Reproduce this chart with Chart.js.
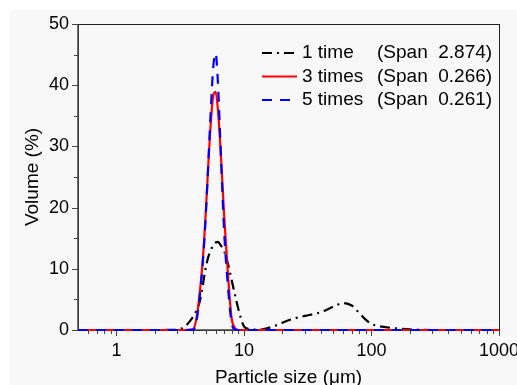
<!DOCTYPE html>
<html lang="en">
<head>
<meta charset="UTF-8">
<title>Particle size distribution</title>
<script src="https://cdn.jsdelivr.net/npm/chart.js"></script>
<style>
  html, body { margin: 0; padding: 0; background: #fff; }
  #wrap { width: 517px; height: 385px; }
</style>
</head>
<body>
<div id="wrap"><canvas id="psd-chart" width="517" height="385"></canvas></div>
<script>
// particle size (um) and volume (%)
const sizes = [0.5, 1, 2, 3, 3.5, 4, 4.25, 4.5, 4.75, 5, 5.25, 5.5, 5.75, 6, 6.25,
  6.5, 6.75, 7, 7.5, 8, 8.5, 9, 10, 11, 12, 14, 17, 20, 25, 30, 40, 50, 60, 70, 80,
  90, 100, 120, 150, 200, 300, 500, 1000];
const once = [0, 0, 0, 0.05, 0.7, 2.2, 3.2, 4.6, 7.2, 10.0, 11.9, 13.0, 13.9, 14.3, 14.4,
  14.0, 13.5, 12.9, 10.8, 8.2, 5.8, 3.6, 0.6, 0.15, 0.05, 0.1, 0.6, 1.2, 1.9, 2.3, 2.9, 3.8, 4.4, 4.0, 2.8,
  1.7, 1.0, 0.55, 0.3, 0.1, 0, 0, 0];
const threeTimes = [0, 0, 0, 0, 0, 0.1, 2.0, 6.0, 11.3, 18.5, 26.8, 33.9, 38.3, 38.9, 36.0,
  30.9, 24.8, 18.6, 9.0, 2.0, 0.3, 0, 0, 0, 0, 0, 0, 0, 0, 0, 0, 0, 0, 0, 0,
  0, 0, 0, 0, 0, 0, 0, 0];
const fiveTimes = [0, 0, 0, 0, 0, 0.05, 1.5, 5.5, 10.8, 18.0, 27.0, 36.0, 43.0, 45.2, 40.5,
  32.0, 23.5, 16.0, 7.0, 1.2, 0.1, 0, 0, 0, 0, 0, 0, 0, 0, 0, 0, 0, 0, 0, 0,
  0, 0, 0, 0, 0, 0, 0, 0];

const seriesNames = ['1 time', '3 times', '5 times'];
const spans = ['2.874', '0.266', '0.261'];
const xLabels = [1, 10, 100, 1000];
const yMajor = [0, 10, 20, 30, 40, 50];
const yMinor = [5, 15, 25, 35, 45];

const FONT = 'Liberation Sans, Arial, sans-serif';
const colors = ['#000000', '#ff0000', '#0000ff'];
const dashes = [[10, 5, 2, 5], [], [10, 8]];

function toPoints(values) {
    return sizes.map((s, i) => ({ x: s, y: values[i] }));
}

// minor x ticks: 2..9 in every decade inside the range
function xMinorTicks() {
    const out = [];
    for (let d = 0.1; d < 1000; d *= 10) {
        for (let k = 2; k <= 9; k++) {
            const v = +(k * d).toPrecision(3);
            if (v > 0.5 && v < 1000) out.push(v);
        }
    }
    return out;
}

const framePlugin = {
    id: 'frame',
    beforeDraw(chart) {
        const ctx = chart.ctx;
        ctx.save();
        ctx.fillStyle = '#ffffff';
        ctx.fillRect(0, 0, chart.width, chart.height);
        ctx.fillStyle = '#f8f8f8';
        ctx.fillRect(10, 10, chart.width - 10, chart.height - 10);
        ctx.restore();
    },
    beforeDatasetsDraw(chart) {
        const { ctx, chartArea: a, scales: { x, y } } = chart;
        ctx.save();
        ctx.strokeStyle = '#222';
        ctx.lineWidth = 1;
        ctx.strokeRect(a.left + 0.5, a.top + 0.5, a.right - a.left, a.bottom - a.top);
        ctx.strokeStyle = '#444';
        ctx.lineWidth = 1.5;
        ctx.beginPath();
        ctx.moveTo(a.left, a.top);
        ctx.lineTo(a.left, a.bottom);
        ctx.lineTo(a.right, a.bottom);
        ctx.stroke();

        ctx.lineWidth = 1;
        ctx.beginPath();
        xLabels.forEach(v => {
            const px = Math.round(x.getPixelForValue(v)) + 0.5;
            ctx.moveTo(px, a.bottom); ctx.lineTo(px, a.bottom + 6);
        });
        xMinorTicks().forEach(v => {
            const px = Math.round(x.getPixelForValue(v)) + 0.5;
            ctx.moveTo(px, a.bottom); ctx.lineTo(px, a.bottom + 4);
        });
        yMajor.forEach(v => {
            const py = Math.round(y.getPixelForValue(v)) + 0.5;
            ctx.moveTo(a.left, py); ctx.lineTo(a.left - 6, py);
        });
        yMinor.forEach(v => {
            const py = Math.round(y.getPixelForValue(v)) + 0.5;
            ctx.moveTo(a.left, py); ctx.lineTo(a.left - 4, py);
        });
        ctx.stroke();
        ctx.restore();
    },
    afterDraw(chart) {
        // legend in the upper right of the plot
        const { ctx, chartArea: a } = chart;
        ctx.save();
        ctx.font = '19px ' + FONT;
        ctx.textBaseline = 'middle';
        ctx.fillStyle = '#000';
        seriesNames.forEach((name, i) => {
            const yy = a.top + 29 + i * 23.5;
            ctx.strokeStyle = colors[i];
            ctx.lineWidth = 2.2;
            ctx.setLineDash(dashes[i]);
            ctx.beginPath();
            ctx.moveTo(262, yy);
            ctx.lineTo(297, yy);
            ctx.stroke();
            ctx.setLineDash([]);
            ctx.fillText(name, 302, yy);
            ctx.fillText('(Span  ' + spans[i] + ')', 377, yy);
        });
        ctx.restore();
    }
};

const ctx = document.getElementById('psd-chart').getContext('2d');
const chart = new Chart(ctx, {
    type: 'line',
    data: {
        datasets: [
            { label: '5 times', data: toPoints(fiveTimes), borderColor: colors[2], borderDash: dashes[2], order: 0 },
            { label: '3 times', data: toPoints(threeTimes), borderColor: colors[1], borderDash: dashes[1], order: 1 },
            { label: '1 time', data: toPoints(once), borderColor: colors[0], borderDash: dashes[0], order: 2 }
        ]
    },
    options: {
        responsive: false,
        animation: false,
        devicePixelRatio: 1,
        layout: { padding: { left: 0, top: 24, right: 18, bottom: 0 } },
        plugins: { legend: { display: false }, tooltip: { enabled: false } },
        elements: {
            point: { radius: 0 },
            line: { borderWidth: 2.2, cubicInterpolationMode: 'monotone', fill: false }
        },
        datasets: { line: { clip: 4 } },
        scales: {
            x: {
                type: 'logarithmic',
                min: 0.5,
                max: 1000,
                grid: { display: false, tickLength: 0 },
                border: { display: false },
                ticks: {
                    autoSkip: false,
                    maxRotation: 0,
                    padding: 10,
                    color: '#000',
                    font: { family: FONT, size: 18 },
                    callback: v => xLabels.some(l => Math.abs(l - v) < 1e-9) ? String(v) : ''
                },
                title: {
                    display: true,
                    text: 'Particle size (μm)',
                    color: '#000',
                    font: { family: FONT, size: 19 },
                    padding: { top: 0, bottom: -4 }
                },
                afterFit: s => { s.height = 55; s.paddingLeft = 0; s.paddingRight = 0; }
            },
            y: {
                min: 0,
                max: 50,
                grid: { display: false, tickLength: 0 },
                border: { display: false },
                ticks: {
                    stepSize: 10,
                    padding: 9,
                    color: '#000',
                    font: { family: FONT, size: 18 }
                },
                title: {
                    display: true,
                    text: 'Volume (%)',
                    color: '#000',
                    font: { family: FONT, size: 19 },
                    padding: { top: 21, bottom: 0 }
                },
                afterFit: s => { s.width = 78; }
            }
        }
    },
    plugins: [framePlugin]
});
</script>
</body>
</html>
